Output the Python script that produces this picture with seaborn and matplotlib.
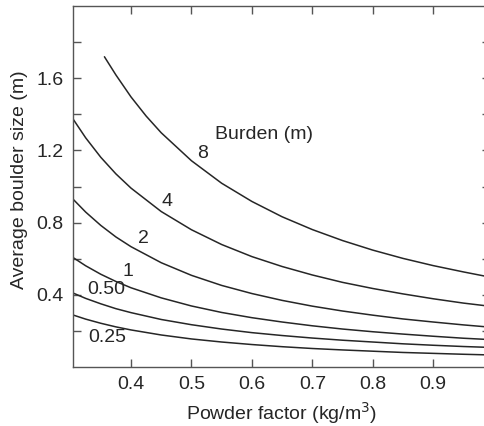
import matplotlib
matplotlib.use("Agg")
import matplotlib.pyplot as plt
import numpy as np
import pandas as pd
import seaborn as sns

# Powder factor (kg/m3) sample positions
powder_factor = [0.304, 0.325, 0.35, 0.375, 0.40, 0.45, 0.50, 0.55, 0.60,
                 0.65, 0.70, 0.75, 0.80, 0.85, 0.90, 0.95, 0.985]

# Burden 8 m starts further right
powder_factor_b8 = [0.356, 0.375, 0.40, 0.425, 0.45, 0.50, 0.55, 0.60,
                    0.65, 0.70, 0.75, 0.80, 0.85, 0.90, 0.95, 0.985]

# Average boulder size (m) for each burden (m)
size_b8 = [1.72, 1.619, 1.497, 1.391, 1.298, 1.143, 1.018, 0.917,
           0.832, 0.761, 0.700, 0.647, 0.601, 0.561, 0.526, 0.503]
size_b4 = [1.375, 1.270, 1.162, 1.070, 0.991, 0.861, 0.760, 0.678, 0.611,
           0.556, 0.509, 0.468, 0.434, 0.404, 0.377, 0.353, 0.339]
size_b2 = [0.930, 0.858, 0.784, 0.720, 0.666, 0.577, 0.507, 0.451, 0.406,
           0.368, 0.336, 0.309, 0.286, 0.265, 0.248, 0.232, 0.222]
size_b1 = [0.606, 0.560, 0.513, 0.473, 0.438, 0.382, 0.337, 0.301, 0.272,
           0.248, 0.227, 0.209, 0.194, 0.181, 0.169, 0.158, 0.152]
size_b050 = [0.409, 0.379, 0.349, 0.322, 0.300, 0.262, 0.233, 0.209, 0.189,
             0.173, 0.159, 0.147, 0.137, 0.127, 0.119, 0.112, 0.108]
size_b025 = [0.287, 0.264, 0.241, 0.221, 0.204, 0.176, 0.154, 0.137, 0.123,
             0.111, 0.101, 0.093, 0.086, 0.079, 0.074, 0.069, 0.066]

burden_labels = ["8", "4", "2", "1", "0.50", "0.25"]
label_pos = [(0.519, 1.185), (0.4596, 0.919), (0.421, 0.711),
             (0.395, 0.527), (0.359, 0.427), (0.360, 0.160)]

series = {
    "8": (powder_factor_b8, size_b8),
    "4": (powder_factor, size_b4),
    "2": (powder_factor, size_b2),
    "1": (powder_factor, size_b1),
    "0.50": (powder_factor, size_b050),
    "0.25": (powder_factor, size_b025),
}
frames = [pd.DataFrame({"pf": xs, "size": ys, "burden": b})
          for b, (xs, ys) in series.items()]
df = pd.concat(frames, ignore_index=True)

sns.set_theme(style="ticks")
plt.rcParams["font.family"] = ["Liberation Sans", "DejaVu Sans"]

ink = "#262626"
fs = 14
fig = plt.figure(figsize=(4.84, 4.26), dpi=100)
ax = fig.add_axes([73 / 484, (426 - 366.7) / 426, 417 / 484, 360.4 / 426])

sns.lineplot(data=df, x="pf", y="size", hue="burden", units="burden",
             estimator=None, sort=False,
             palette={b: ink for b in burden_labels},
             linewidth=1.1, legend=False, ax=ax)

for text, (lx, ly) in zip(burden_labels, label_pos):
    ax.text(lx, ly, text, ha="center", va="center", fontsize=fs, color=ink)
ax.text(0.5386, 1.288, "Burden (m)", ha="left", va="center",
        fontsize=fs, color=ink)

ax.set_xlim(0.304, 0.994)
ax.set_ylim(0.0, 2.0)
ax.set_xticks([0.4, 0.5, 0.6, 0.7, 0.8, 0.9])
ax.set_xticklabels(["0.4", "0.5", "0.6", "0.7", "0.8", "0.9"])
ax.set_yticks([0.2, 0.4, 0.6, 0.8, 1.0, 1.2, 1.4, 1.6, 1.8])
ax.set_yticklabels(["", "0.4", "", "0.8", "", "1.2", "", "1.6", ""])
ax.tick_params(direction="in", length=6, width=1.0, color="#555555",
               labelsize=fs, labelcolor=ink, top=True, right=True, pad=7)
for sp in ax.spines.values():
    sp.set_color("#555555")
    sp.set_linewidth(1.0)

ax.set_xlabel("Powder factor (kg/m$^3$)", fontsize=fs, color=ink)
ax.set_ylabel("Average boulder size (m)", fontsize=fs, color=ink)
ax.xaxis.set_label_coords(0.5, -0.092)
ax.yaxis.set_label_coords(-0.108, 0.52)

fig.savefig("out.png", dpi=100)
